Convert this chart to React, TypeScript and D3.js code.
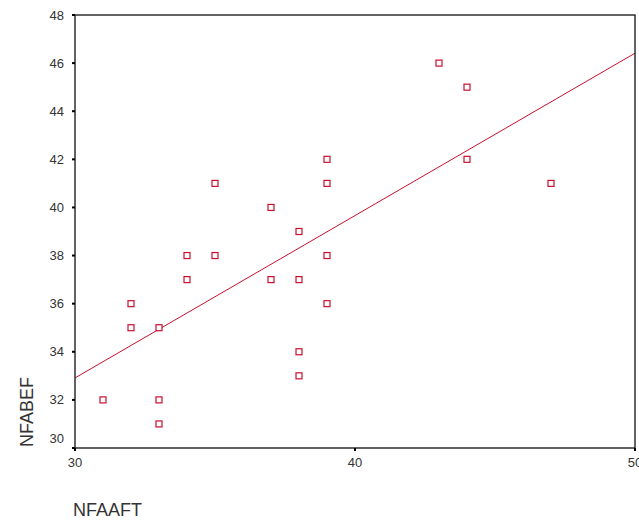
import React from 'react';
import * as d3 from 'd3';

// NFAAFT (x) vs NFABEF (y)
const nfaaft = [31, 32, 32, 33, 33, 33, 34, 34, 35, 35, 37, 37, 38, 38, 38, 38, 39, 39, 39, 39, 43, 44, 44, 47];
const nfabef = [32, 36, 35, 35, 32, 31, 38, 37, 41, 38, 40, 37, 39, 37, 34, 33, 42, 41, 38, 36, 46, 45, 42, 41];
const xTicks = [30, 40, 50];
const yTicks = [30, 32, 34, 36, 38, 40, 42, 44, 46, 48];

const W = 639;
const H = 523;
const margin = { top: 15, right: 4, bottom: 75, left: 75 };
const RED = '#c8102e';

export default function App() {
  const x = d3.scaleLinear().domain([30, 50]).range([margin.left, W - margin.right]);
  const y = d3.scaleLinear().domain([30, 48]).range([H - margin.bottom, margin.top]);

  // least squares fit line
  const mx = d3.mean(nfaaft) as number;
  const my = d3.mean(nfabef) as number;
  let sxy = 0;
  let sxx = 0;
  nfaaft.forEach((v, i) => {
    sxy += (v - mx) * (nfabef[i] - my);
    sxx += (v - mx) * (v - mx);
  });
  const slope = sxy / sxx;
  const icpt = my - slope * mx;
  const fit = d3.line<number>()
    .x(d => x(d))
    .y(d => y(icpt + slope * d));

  const x0 = x(30), x1 = x(50), y0 = y(30), y1 = y(48);
  const font = 'Arial, "Liberation Sans", sans-serif';

  return (
    <svg width={W} height={H} style={{ position: 'absolute', left: 0, top: 0, background: '#fff' }}>
      <path d={fit([30, 50]) || ''} fill="none" stroke={RED} strokeWidth={1} />
      {nfaaft.map((v, i) => (
        <rect key={i} x={x(v) - 3} y={y(nfabef[i]) - 3} width={6} height={6}
          fill="#fff" stroke={RED} strokeWidth={1.2} />
      ))}
      <rect x={x0} y={y1} width={x1 - x0} height={y0 - y1} fill="none" stroke="#222" strokeWidth={1.4} />
      {yTicks.map(t => (
        <g key={'y' + t}>
          <rect x={x0 - 3} y={y(t) - 1} width={3} height={2} fill="#000" />
          <text x={x0 - 11} y={t === 30 ? y(t) - 10 : y(t)} dy="0.35em" textAnchor="end"
            fontFamily={font} fontSize={13} fill="#333">{t}</text>
        </g>
      ))}
      {xTicks.map(t => (
        <g key={'x' + t}>
          <rect x={x(t) - 1} y={y0} width={2} height={3} fill="#000" />
          <text x={x(t)} y={y0 + 14} dy="0.35em" textAnchor="middle"
            fontFamily={font} fontSize={13} fill="#333">{t}</text>
        </g>
      ))}
      <text x={73} y={516} fontFamily={font} fontSize={18} fill="#333">NFAAFT</text>
      <text transform={`translate(33,447) rotate(-90)`} fontFamily={font} fontSize={18} fill="#333">NFABEF</text>
    </svg>
  );
}
